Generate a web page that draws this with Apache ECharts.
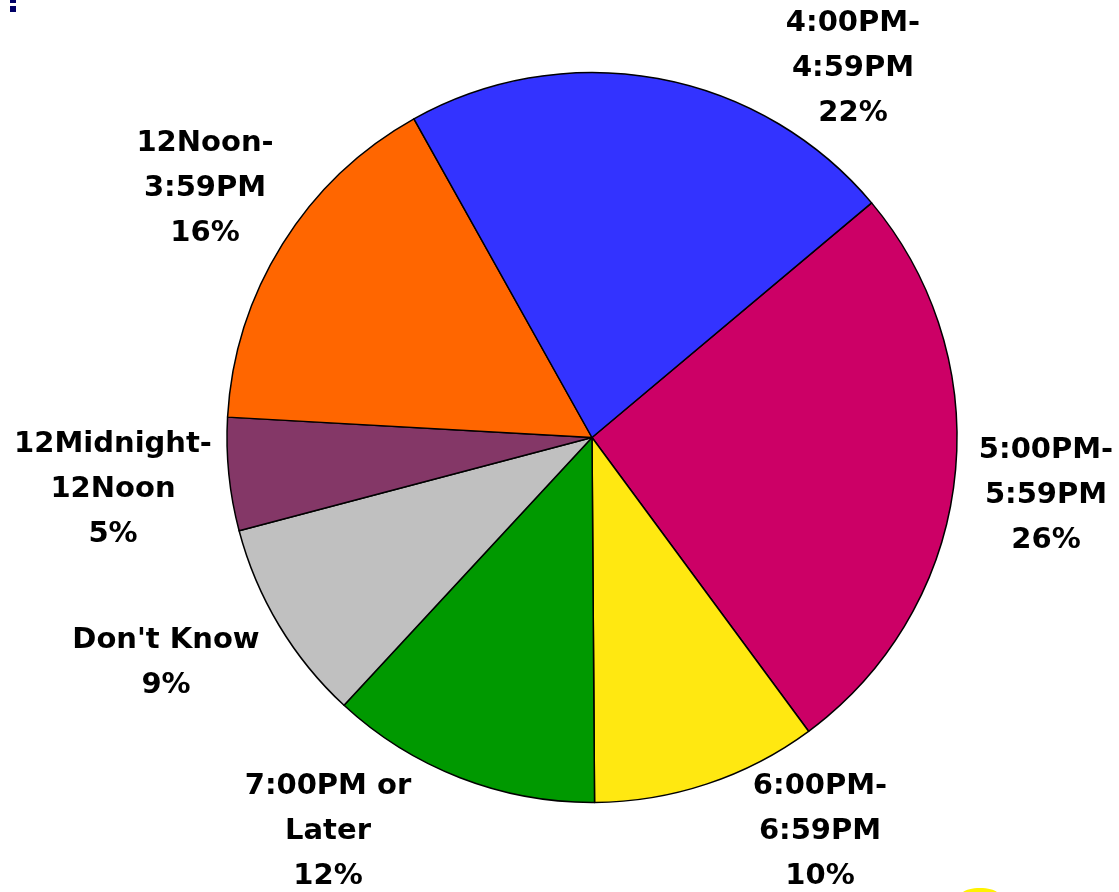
<!DOCTYPE html>
<html>
<head>
<meta charset="utf-8">
<script src="https://cdn.jsdelivr.net/npm/echarts@6/dist/echarts.min.js"></script>
<style>
  html, body { margin: 0; padding: 0; background: #fff; }
  #chart { width: 1119px; height: 892px; }
</style>
</head>
<body>
<div id="chart"></div>
<script>
  // slices, clockwise from the blue/magenta edge
  var categories = ['5:00PM-\n5:59PM', '6:00PM-\n6:59PM', '7:00PM or\nLater', "Don't Know", '12Midnight-\n12Noon', '12Noon-\n3:59PM', '4:00PM-\n4:59PM'];
  var percents = [26, 10, 12, 9, 5, 16, 22];
  var colors = ['#CC0066', '#FFE811', '#009900', '#C0C0C0', '#843767', '#FF6600', '#3333FF'];
  // where each label block sits (centre of text)
  var labelPos = [[1046, 495], [820, 831], [328, 831], [166, 663], [113, 489], [205, 188], [853, 68]];

  var chart = echarts.init(document.getElementById('chart'));

  var pieData = [];
  for (var i = 0; i < categories.length; i++) {
    pieData.push({
      name: categories[i],
      value: percents[i],
      itemStyle: { color: colors[i] }
    });
  }

  var option = {
    backgroundColor: '#ffffff',
    animation: false,
    graphic: [
      { type: 'rect', shape: { x: 10, y: 0, width: 6, height: 3 }, style: { fill: '#000066' } },
      { type: 'rect', shape: { x: 10, y: 6, width: 6, height: 6 }, style: { fill: '#000066' } },
      { type: 'ellipse', shape: { cx: 980, cy: 894, rx: 18, ry: 6 }, style: { fill: '#FFF200' } }
    ],
    series: [{
      type: 'pie',
      center: [592, 437.5],
      radius: 365,
      startAngle: 40,
      clockwise: true,
      avoidLabelOverlap: false,
      itemStyle: { borderColor: '#000', borderWidth: 1.5 },
      label: {
        show: true,
        position: 'outside',
        formatter: function (p) { return p.name + '\n' + p.value + '%'; },
        fontFamily: 'DejaVu Sans, sans-serif',
        fontWeight: 'bold',
        fontSize: 29,
        lineHeight: 45,
        color: '#000',
        align: 'center'
      },
      labelLine: { show: false },
      labelLayout: function (params) {
        var p = labelPos[params.dataIndex];
        return { x: p[0], y: p[1], align: 'center', verticalAlign: 'middle' };
      },
      data: pieData
    }]
  };

  chart.setOption(option);
</script>
</body>
</html>
